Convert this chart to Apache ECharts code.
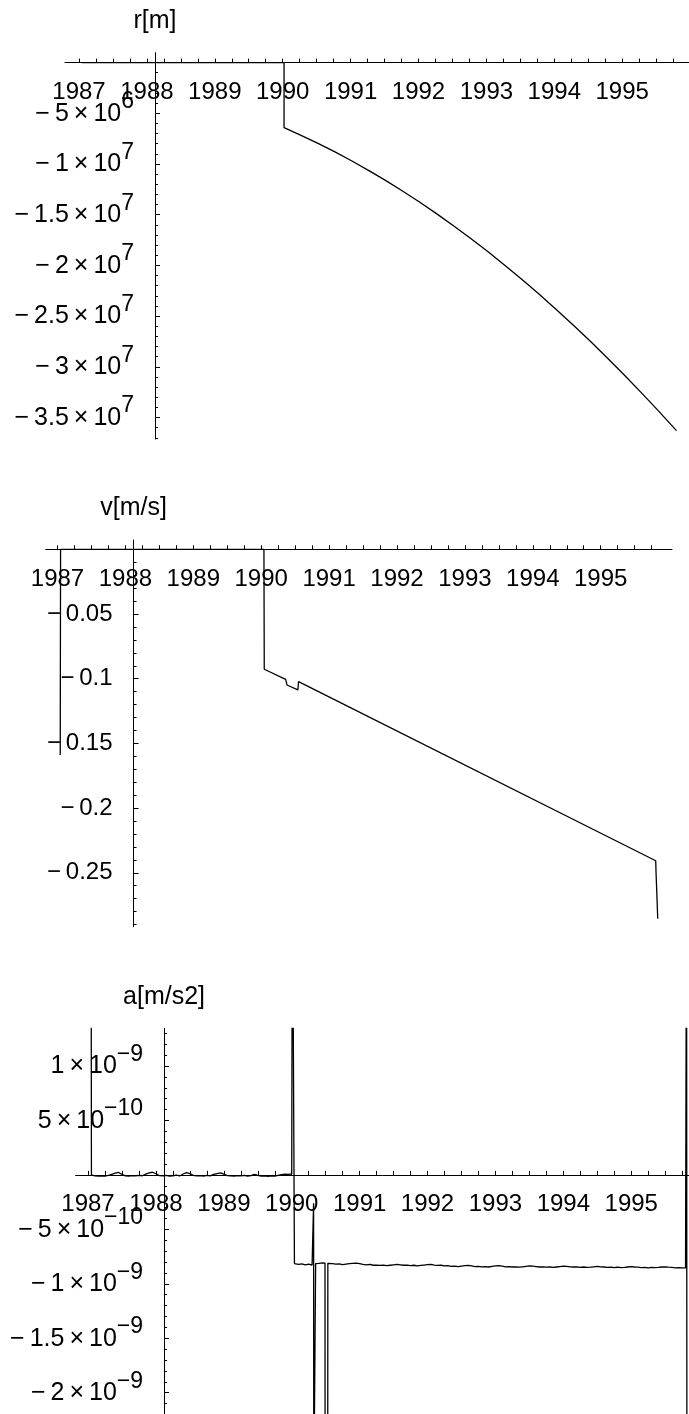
<!DOCTYPE html>
<html><head><meta charset="utf-8">
<script src="https://cdn.jsdelivr.net/npm/echarts@6/dist/echarts.min.js"></script>
<style>html,body{margin:0;padding:0;background:#fff}#c{width:689px;height:1414px}</style>
</head><body><div id="c"></div>
<script>
// ---------------- DATA ----------------
const yearLabels = [1987, 1988, 1989, 1990, 1991, 1992, 1993, 1994, 1995];

// r [m]
const rYears = [1987.04, 1990.02, 1990.02, 1990.27, 1990.52, 1990.77, 1991.02, 1991.27, 1991.52, 1991.77,
  1992.02, 1992.27, 1992.52, 1992.77, 1993.02, 1993.27, 1993.52, 1993.77, 1994.02, 1994.27,
  1994.52, 1994.77, 1995.02, 1995.27, 1995.52, 1995.80];
const rValues = [0, 0, -6.42e6, -7.17e6, -7.96e6, -8.81e6, -9.70e6, -10.65e6, -11.64e6, -12.69e6,
  -13.78e6, -14.92e6, -16.11e6, -17.35e6, -18.64e6, -19.98e6, -21.37e6, -22.80e6, -24.29e6, -25.83e6,
  -27.41e6, -29.05e6, -30.73e6, -32.47e6, -34.25e6, -36.30e6];
const rTickValues = [-5e6, -1e7, -1.5e7, -2e7, -2.5e7, -3e7, -3.5e7];
const rTickMantissa = ['\u22125', '\u22121', '\u22121.5', '\u22122', '\u22122.5', '\u22123', '\u22123.5'];
const rTickExponent = ['6', '7', '7', '7', '7', '7', '7'];

// v [m/s]
const vYears = [1987.04, 1987.045, 1990.04, 1990.045, 1990.36, 1990.38, 1990.54, 1990.55, 1995.81, 1995.815, 1995.84];
const vValues = [-0.159, 0, 0, -0.0927, -0.1005, -0.1049, -0.1087, -0.1023, -0.2407, -0.2500, -0.2855];
const vTickValues = [-0.05, -0.1, -0.15, -0.2, -0.25];
const vTickText = ['\u22120.05', '\u22120.1', '\u22120.15', '\u22120.2', '\u22120.25'];

// a [m/s2], values in units of 1e-9 m/s2
const aStart = [[1987.045, 3.0], [1987.05, 0.0]];
const aBefore1990 = [
  [1987.10,-0.010],[1987.15,-0.012],[1987.20,-0.008],[1987.25,-0.012],[1987.30,-0.005],[1987.35,0.005],
  [1987.40,0.015],[1987.45,0.022],[1987.50,0.005],[1987.55,-0.010],[1987.60,-0.012],[1987.65,-0.006],
  [1987.70,-0.010],[1987.75,-0.004],[1987.80,-0.008],[1987.85,0.006],[1987.90,0.018],[1987.95,0.024],
  [1988.00,0.010],[1988.05,-0.006],[1988.10,-0.010],[1988.15,-0.004],[1988.20,-0.012],[1988.25,-0.008],
  [1988.30,-0.002],[1988.35,-0.010],[1988.40,0.008],[1988.45,0.020],[1988.50,0.012],[1988.55,-0.004],
  [1988.60,-0.010],[1988.65,-0.006],[1988.70,-0.012],[1988.75,-0.005],[1988.80,-0.010],[1988.85,0.004],
  [1988.90,0.012],[1988.95,0.018],[1989.00,0.006],[1989.05,-0.006],[1989.10,-0.010],[1989.15,-0.012],
  [1989.20,-0.006],[1989.25,-0.010],[1989.30,-0.004],[1989.35,-0.012],[1989.40,-0.006],[1989.45,0.004],
  [1989.50,-0.004],[1989.55,-0.012],[1989.60,-0.010],[1989.65,-0.014],[1989.70,-0.008],[1989.75,-0.012],
  [1989.80,-0.004],[1989.85,0.002],[1989.90,0.006],[1989.95,0.004],[1990.00,0.008]
];
const aJump1990 = [[1990.01, 3.0], [1990.04, -0.815],
  [1990.10,-0.822],[1990.15,-0.818],[1990.20,-0.826],[1990.25,-0.820],[1990.30,-0.828],
  [1990.32,-0.825],[1990.322,-0.26],[1990.325,-3.0],[1990.35,-3.0],[1990.352,-0.815],
  [1990.40,-0.812],[1990.45,-0.808],
  [1990.49,-0.810],[1990.492,-3.0],[1990.53,-3.0],[1990.532,-0.812]];
const aAfter1990 = [
  [1990.55,-0.810],[1990.60,-0.815],[1990.65,-0.820],[1990.70,-0.818],[1990.75,-0.824],[1990.80,-0.820],
  [1990.85,-0.816],[1990.90,-0.812],[1990.95,-0.810],[1991.00,-0.816],[1991.05,-0.822],[1991.10,-0.826],
  [1991.15,-0.822],[1991.20,-0.830],[1991.25,-0.828],[1991.30,-0.832],[1991.35,-0.828],[1991.40,-0.834],
  [1991.45,-0.830],[1991.50,-0.826],[1991.55,-0.822],[1991.60,-0.826],[1991.65,-0.830],[1991.70,-0.828],
  [1991.75,-0.834],[1991.80,-0.830],[1991.85,-0.836],[1991.90,-0.832],[1991.95,-0.828],[1992.00,-0.824],
  [1992.05,-0.822],[1992.10,-0.828],[1992.15,-0.832],[1992.20,-0.830],[1992.25,-0.836],[1992.30,-0.834],
  [1992.35,-0.840],[1992.40,-0.838],[1992.45,-0.842],[1992.50,-0.838],[1992.55,-0.834],[1992.60,-0.832],
  [1992.65,-0.836],[1992.70,-0.842],[1992.75,-0.840],[1992.80,-0.844],[1992.85,-0.842],[1992.90,-0.846],
  [1992.95,-0.840],[1993.00,-0.836],[1993.05,-0.834],[1993.10,-0.838],[1993.15,-0.844],[1993.20,-0.842],
  [1993.25,-0.846],[1993.30,-0.844],[1993.35,-0.848],[1993.40,-0.844],[1993.45,-0.840],[1993.50,-0.836],
  [1993.55,-0.838],[1993.60,-0.842],[1993.65,-0.846],[1993.70,-0.844],[1993.75,-0.848],[1993.80,-0.846],
  [1993.85,-0.850],[1993.90,-0.846],[1993.95,-0.842],[1994.00,-0.838],[1994.05,-0.840],[1994.10,-0.844],
  [1994.15,-0.846],[1994.20,-0.844],[1994.25,-0.850],[1994.30,-0.846],[1994.35,-0.850],[1994.40,-0.848],
  [1994.45,-0.844],[1994.50,-0.840],[1994.55,-0.844],[1994.60,-0.846],[1994.65,-0.850],[1994.70,-0.848],
  [1994.75,-0.852],[1994.80,-0.848],[1994.85,-0.852],[1994.90,-0.850],[1994.95,-0.846],[1995.00,-0.842],
  [1995.05,-0.846],[1995.10,-0.848],[1995.15,-0.852],[1995.20,-0.850],[1995.25,-0.854],[1995.30,-0.850],
  [1995.35,-0.852],[1995.40,-0.850],[1995.45,-0.846],[1995.50,-0.844],[1995.55,-0.848],[1995.60,-0.850],
  [1995.65,-0.854],[1995.70,-0.852],[1995.75,-0.855],[1995.80,-0.855]
];
const aEnd = [[1995.815, 3.0], [1995.82, -3.0]];
const aTickValues = [1.0, 0.5, -0.5, -1.0, -1.5, -2.0];
const aTickMantissa = ['1', '5', '\u22125', '\u22121', '\u22121.5', '\u22122'];
const aTickExponent = ['\u22129', '\u221210', '\u221210', '\u22129', '\u22129', '\u22129'];

// ---------------- LAYOUT ----------------
const FONT = '"Liberation Sans", Arial, Helvetica, sans-serif';
const PX_PER_YEAR = 67.9;
const Y_AXIS_YEAR = 1988.12;
const TS = '\u2009'; // thin space

function zip(xs, ys) { return xs.map((x, i) => [x, ys[i]]); }
function fmtMinus(m) { return m.replace('\u2212', '\u2212' + TS); }
function fmtSci(m, e) { return '{m|' + fmtMinus(m) + TS + '\u00d7' + TS + '10}{s|' + e + '}'; }

const panels = [
  { title: 'r[m]', left: 65, width: 624, top: 52.7, height: 386.3, xMin: 1986.794,
    yMin: -3.712e7, yMax: 0.976e6, minorStep: 1e6, minorFrom: 1, minorTo: -37,
    majors: rTickValues, label: (v) => { const i = rTickValues.indexOf(v); return i < 0 ? '' : fmtSci(rTickMantissa[i], rTickExponent[i]); },
    data: zip(rYears, rValues) },
  { title: 'v[m/s]', left: 45.7, width: 626.3, top: 540, height: 386.7, xMin: 1986.826,
    yMin: -0.2917, yMax: 0.0072, minorStep: 0.01, minorFrom: 0, minorTo: -29,
    majors: vTickValues, label: (v) => { const i = vTickValues.indexOf(v); return i < 0 ? '' : '{v|' + fmtMinus(vTickText[i]) + '}'; },
    data: zip(vYears, vValues) },
  { title: 'a[m/s2]', left: 75.6, width: 613.4, top: 1028.3, height: 385.7, xMin: 1986.817,
    yMin: -2.196, yMax: 1.346, minorStep: 0.1, minorFrom: 13, minorTo: -21,
    majors: aTickValues, label: (v) => { const i = aTickValues.indexOf(v); return i < 0 ? '' : fmtSci(aTickMantissa[i], aTickExponent[i]); },
    data: [].concat(aStart, aBefore1990, aJump1990, aAfter1990, aEnd) }
];

const xTicks = [];
for (let k = 0; k <= 35; k++) xTicks.push(1987 + k * 0.25);

const grids = [], xAxes = [], yAxes = [], series = [];
const rich = {
  m: { fontFamily: FONT, fontSize: 25, color: '#000', lineHeight: 26, verticalAlign: 'bottom' },
  s: { fontFamily: FONT, fontSize: 23, color: '#000', lineHeight: 24, padding: [0, 0, 13, 0], verticalAlign: 'bottom' },
  v: { fontFamily: FONT, fontSize: 24, color: '#000', lineHeight: 26 }
};

panels.forEach((p, gi) => {
  const xMax = p.xMin + p.width / PX_PER_YEAR;
  const yOffset = -(Y_AXIS_YEAR - p.xMin) * PX_PER_YEAR;
  const xOffset = -p.height * (0 - p.yMin) / (p.yMax - p.yMin);
  const minors = [];
  for (let k = p.minorFrom; k >= p.minorTo; k--) minors.push(+(k * p.minorStep).toPrecision(6));
  grids.push({ left: p.left, top: p.top, width: p.width, height: p.height, containLabel: false });
  const majorIdx = yAxes.length;
  yAxes.push({
    type: 'value', gridIndex: gi, position: 'left', offset: yOffset, min: p.yMin, max: p.yMax,
    name: p.title, nameLocation: 'end', nameGap: 19,
    nameTextStyle: { fontFamily: FONT, fontSize: 25, color: '#000', align: 'center' },
    axisLine: { show: true, onZero: false, lineStyle: { color: '#000', width: 1 } },
    axisTick: { show: true, inside: true, length: 5, customValues: p.majors, lineStyle: { color: '#000', width: 1 } },
    axisLabel: { show: true, margin: 21, customValues: p.majors, formatter: p.label, rich: rich, color: '#000' },
    splitLine: { show: false }
  });
  yAxes.push({
    type: 'value', gridIndex: gi, position: 'left', offset: yOffset, min: p.yMin, max: p.yMax,
    axisLine: { show: false, onZero: false },
    axisTick: { show: true, inside: true, length: 3, customValues: minors, lineStyle: { color: '#000', width: 1 } },
    axisLabel: { show: false },
    splitLine: { show: false }
  });
  xAxes.push({
    type: 'value', gridIndex: gi, position: 'bottom', offset: xOffset, min: p.xMin, max: xMax,
    axisLine: { show: true, onZero: false, lineStyle: { color: '#000', width: 1 } },
    axisTick: { show: true, inside: true, length: 4, customValues: xTicks, lineStyle: { color: '#000', width: 1 } },
    axisLabel: { show: true, margin: 18, customValues: yearLabels, formatter: (v) => String(Math.round(v)),
      fontFamily: FONT, fontSize: 24, color: '#000' },
    splitLine: { show: false }
  });
  series.push({
    type: 'line', xAxisIndex: gi, yAxisIndex: majorIdx, data: p.data, showSymbol: false,
    symbol: 'none', lineStyle: { color: '#000', width: 1.3 }, clip: true, z: 3
  });
});

const chart = echarts.init(document.getElementById('c'));
chart.setOption({
  animation: false, backgroundColor: '#fff',
  grid: grids, xAxis: xAxes, yAxis: yAxes, series: series
});
</script>
</body></html>
